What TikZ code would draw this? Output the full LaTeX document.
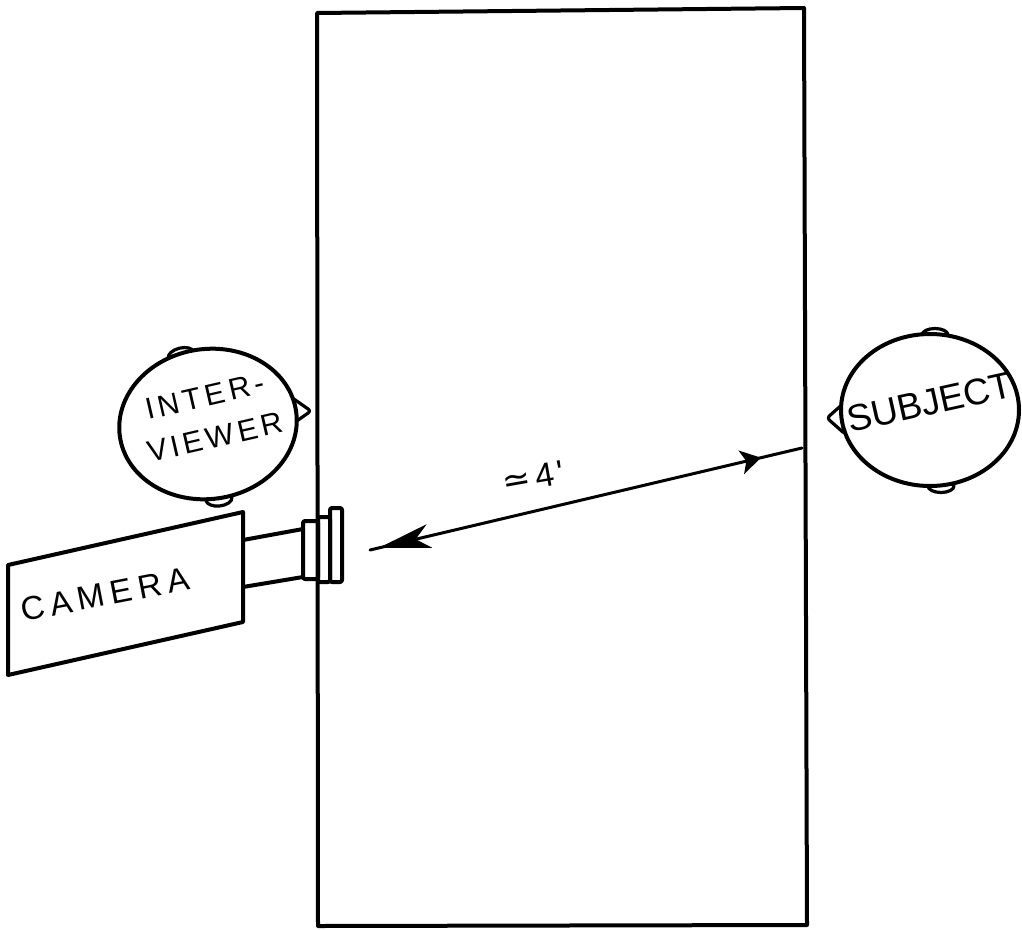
\documentclass[tikz,border=0pt]{standalone}
\usepackage{fontspec}
\newfontfamily\hand{Liberation Sans}
\newfontfamily\symb{DejaVu Sans}
\usetikzlibrary{arrows.meta,decorations.markings}

\begin{document}
\begin{tikzpicture}[x=1pt, y=-1pt, line join=round, line cap=round,
  outline/.style={draw=black, line width=4pt},
  earshape/.style={draw=black, line width=3.2pt, fill=white},
  headshape/.style={draw=black, line width=4pt, fill=white},
  lettering/.style={font=\hand\fontsize{#1}{#1}\selectfont, inner sep=0pt, anchor=base west},
  lettering/.default=30]

  % page frame
  \useasboundingbox (0,0) rectangle (1022,929);

  % the table
  \draw[outline] (317,13) -- (804,8) -- (807,925) -- (318,926) -- cycle;

  % interviewer: ears and nose under the head
  \draw[earshape, rotate around={14:(181,355)}] (181,355) ellipse [x radius=13pt, y radius=7pt];
  \draw[earshape, rotate around={6:(219,499)}] (219,499) ellipse [x radius=13pt, y radius=7pt];
  \draw[earshape, rounded corners=3pt] (291,397) -- (311,411) -- (291,425) -- cycle;
  \draw[headshape, rotate around={8:(208,424)}] (208,424) ellipse [x radius=89pt, y radius=75pt];
  \node[lettering, rotate=13] (inter) at (148,420) {\addfontfeature{LetterSpace=14}INTER-};
  \node[lettering, rotate=13] (viewer) at (150,463) {\addfontfeature{LetterSpace=13}VIEWER};

  % subject: ears and nose under the head
  \draw[earshape] (935,335) ellipse [x radius=13pt, y radius=6.5pt];
  \draw[earshape] (941,486) ellipse [x radius=13pt, y radius=6.5pt];
  \draw[earshape, rounded corners=3pt] (845,402) -- (827,418) -- (845,434) -- cycle;
  \draw[headshape] (930,410) ellipse [x radius=89pt, y radius=76pt];
  \node[lettering=37, rotate=12.5] (subject) at (850,433) {SUBJECT};

  % camera body, lens tube and lens rings
  \draw[outline] (8,565) -- (243,512) -- (243,622) -- (8,675) -- cycle;
  \draw[outline] (243,540) -- (303,529);
  \draw[outline] (243,587) -- (303,577);
  \draw[outline, rounded corners=2pt] (303,521) rectangle (318,579);
  \draw[outline, rounded corners=2pt] (318,517) rectangle (330,582);
  \draw[outline, rounded corners=2pt] (330,508) rectangle (342,582);
  \node[lettering=33, rotate=11] (camera) at (23,622) {\addfontfeature{LetterSpace=18}CAMERA};

  % distance between camera and subject
  \coordinate (near) at (370,550);
  \coordinate (far) at (802,448);
  \draw[line width=3pt, postaction=decorate,
    decoration={markings,
      mark=at position 0.02 with {\arrowreversed{Stealth[length=52pt, width=24pt, inset=14pt]}},
      mark=at position 0.905 with {\arrow{Stealth[length=20pt, width=24pt, inset=5pt]}}}]
    (near) -- (far);
  \node[lettering=34, rotate=10] (dist) at (504,494) {{\symb ≃}\hspace{5pt}4\hspace{4pt}'};
\end{tikzpicture}
\end{document}
